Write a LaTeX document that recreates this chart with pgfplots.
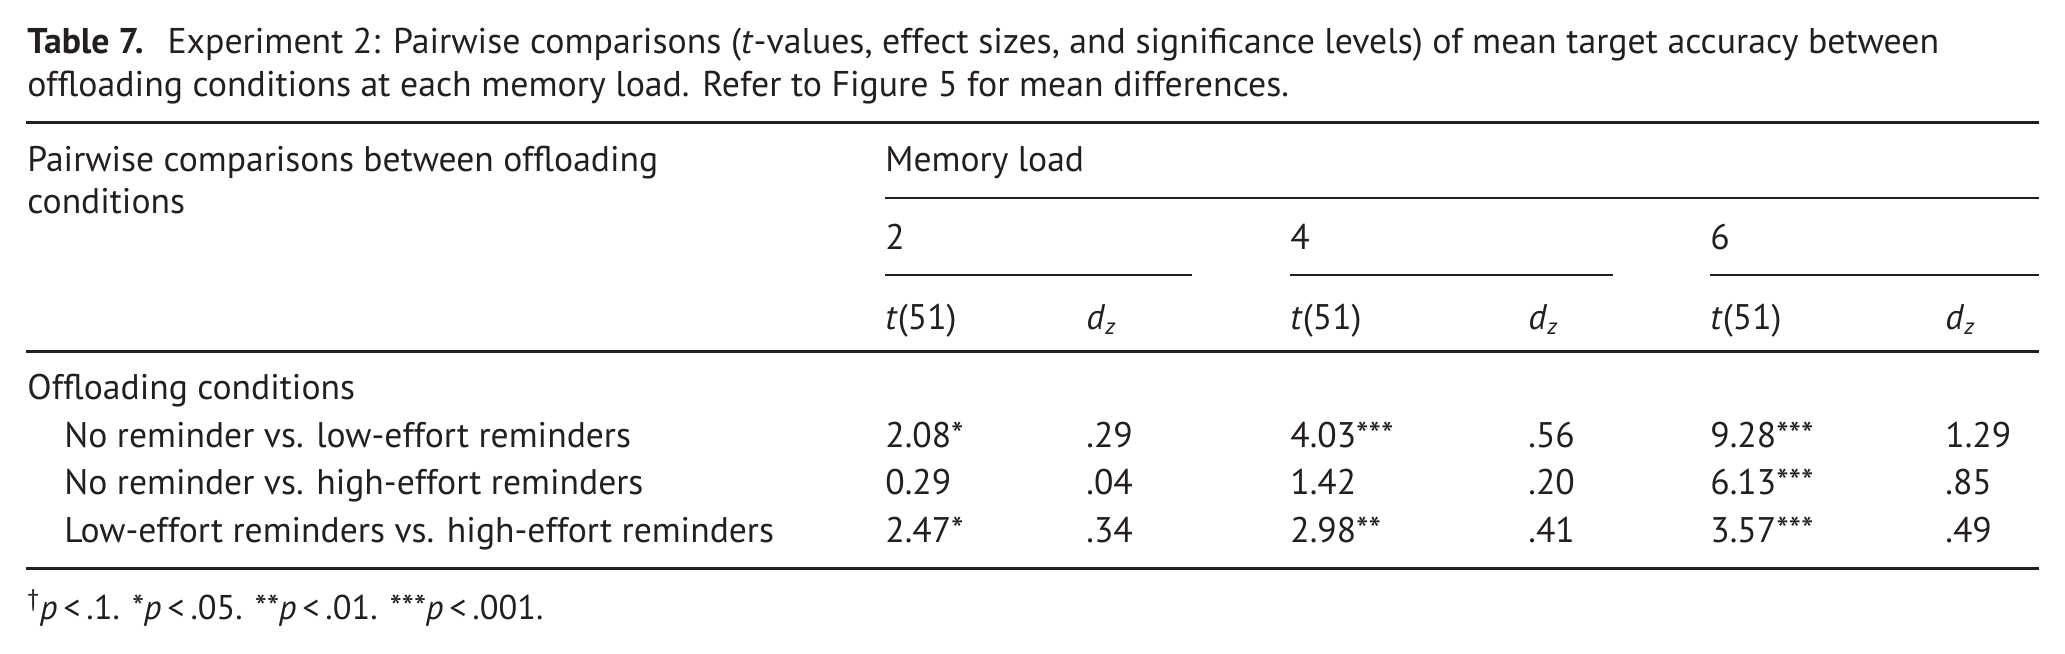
\documentclass[border=0pt]{standalone}
\usepackage{fontspec}
\setmainfont{PT Sans}
\usepackage{pgfplots}
\pgfplotsset{compat=1.18}
\usepackage{pgfplotstable}
\definecolor{ink}{RGB}{35,31,32}
\newcommand{\bodyfont}{\fontsize{17.8}{21}\selectfont}
\newcommand{\titlefont}{\fontsize{17.9}{21}\selectfont}
\tikzset{txt/.style={anchor=base west, inner sep=0pt, font=\bodyfont, text=ink}}

\pgfplotstableread[col sep=semicolon]{
x;y;label
885;447;2.08*
1086;447;.29
1290;447;4.03***
1528;447;.56
1710;447;9.28***
1945;447;1.29
885;494;0.29
1086;494;.04
1290;494;1.42
1528;494;.20
1710;494;6.13***
1945;494;.85
885;542;2.47*
1086;542;.34
1290;542;2.98**
1528;542;.41
1710;542;3.57***
1945;542;.49
64;447;No reminder vs. low-effort reminders
64;494;No reminder vs. high-effort reminders
64;542;Low-effort reminders vs. high-effort reminders
}\cells

\begin{document}
\begin{tikzpicture}
\begin{axis}[
  width=1032.5pt, height=326.5pt, scale only axis,
  xmin=0, xmax=2065, ymin=0, ymax=653, y dir=reverse,
  hide axis, clip=false,
]
\addplot[draw=none] coordinates {(0,0) (2065,653)};
% rules
\addplot[ink, line width=1.5pt] coordinates {(26,122) (2039,122)};
\addplot[ink, line width=1.3pt] coordinates {(885,198) (2039,198)};
\addplot[ink, line width=1.3pt] coordinates {(885,275) (1192,275)};
\addplot[ink, line width=1.3pt] coordinates {(1290,275) (1613,275)};
\addplot[ink, line width=1.3pt] coordinates {(1710,275) (2039,275)};
\addplot[ink, line width=1.5pt] coordinates {(26,351) (2039,351)};
\addplot[ink, line width=1.5pt] coordinates {(26,568) (2039,568)};
% cells
\addplot[only marks, mark=text, text mark={},
  nodes near coords, point meta=explicit symbolic,
  every node near coord/.append style={anchor=base west, inner sep=0pt, font=\bodyfont, text=ink}]
  table[x=x, y=y, meta=label]{\cells};
% title
\node[anchor=base west, inner sep=0pt, font=\titlefont, text=ink] at (axis cs:27,53)
  {\textbf{Table 7.}\hspace{12pt}Experiment 2: Pairwise comparisons (\textit{t}-values, effect sizes, and significance levels) of mean target accuracy between};
\node[anchor=base west, inner sep=0pt, font=\titlefont, text=ink] at (axis cs:27,96)
  {offloading conditions at each memory load. Refer to Figure 5 for mean differences.};
% header
\node[txt] at (axis cs:27,171) {Pairwise comparisons between offloading};
\node[txt] at (axis cs:27,213) {conditions};
\node[txt] at (axis cs:885,171) {Memory load};
\node[txt] at (axis cs:885,249) {2};
\node[txt] at (axis cs:1290,249) {4};
\node[txt] at (axis cs:1710,249) {6};
\node[txt] at (axis cs:885,329) {\textit{t}(51)};
\node[txt] at (axis cs:1290,329) {\textit{t}(51)};
\node[txt] at (axis cs:1710,329) {\textit{t}(51)};
\node[txt] at (axis cs:1086,329) {\textit{d}\raisebox{-0.3ex}{\fontsize{11.5}{12}\selectfont\textit{z}}};
\node[txt] at (axis cs:1528,329) {\textit{d}\raisebox{-0.3ex}{\fontsize{11.5}{12}\selectfont\textit{z}}};
\node[txt] at (axis cs:1945,329) {\textit{d}\raisebox{-0.3ex}{\fontsize{11.5}{12}\selectfont\textit{z}}};
\node[txt] at (axis cs:27,399) {Offloading conditions};
% footnote
\node[txt] at (axis cs:27,619)
  {\fontsize{17.2}{20}\selectfont\textsuperscript{\dag}\textit{p}\,<\,.1. *\textit{p}\,<\,.05. **\textit{p}\,<\,.01. ***\textit{p}\,<\,.001.};
\end{axis}
\end{tikzpicture}
\end{document}
